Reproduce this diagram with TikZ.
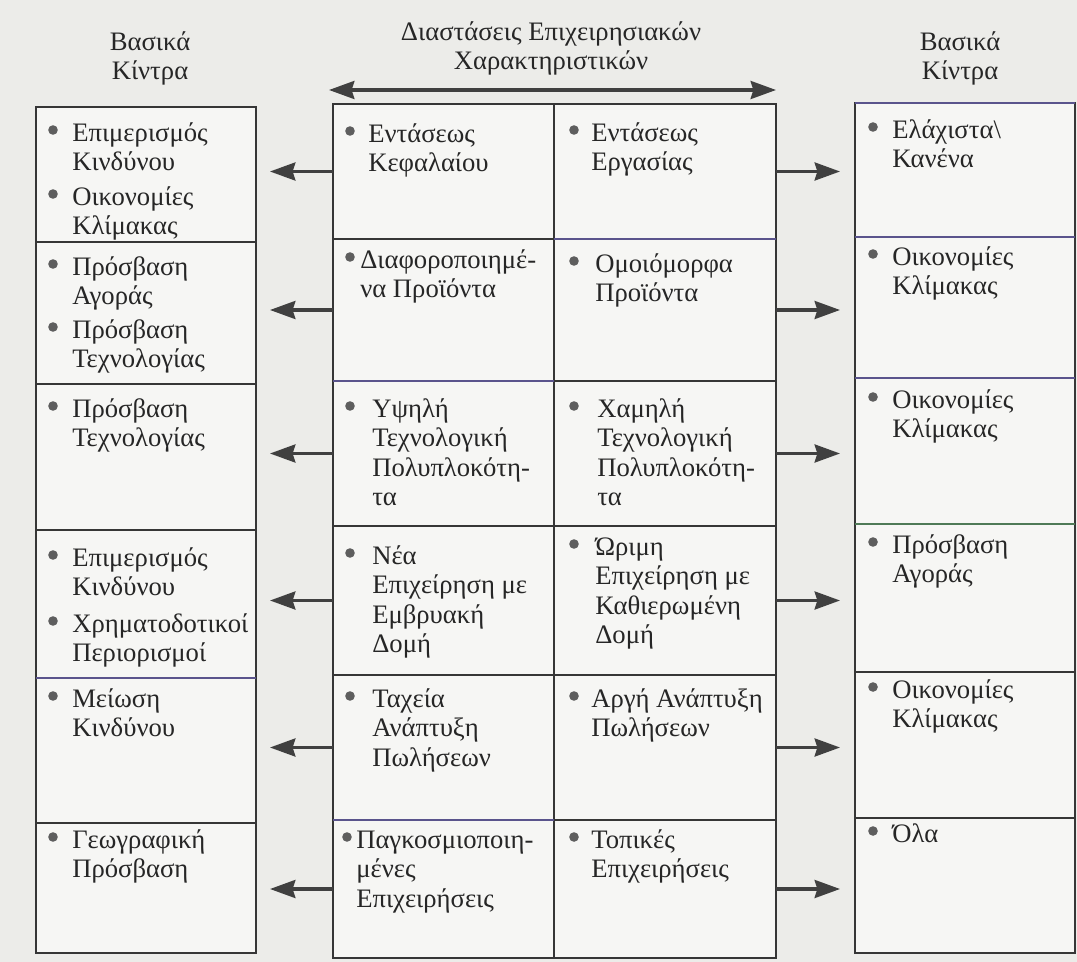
\documentclass[tikz,border=0pt]{standalone}
\usepackage{fontspec}
\setmainfont{Liberation Serif}
\usetikzlibrary{arrows.meta,fit}

\definecolor{paper}{HTML}{ECECE9}
\definecolor{boxfill}{HTML}{F6F6F4}
\definecolor{ink}{HTML}{262626}
\definecolor{rule}{HTML}{363636}
\definecolor{rulepurple}{HTML}{5A548C}
\definecolor{rulegreen}{HTML}{4F7A57}
\definecolor{arrowgray}{HTML}{404040}
\definecolor{dotgray}{HTML}{5E5E5E}

\tikzset{
  region/.style={inner sep=0pt, outer sep=0pt},
  frame/.style={draw=rule, line width=1.2pt, fill=boxfill},
  divider/.style={draw=rule, line width=1.1pt},
  head/.style={font=\fontsize{20}{22.1}\selectfont, text=ink, align=center, inner sep=0pt, anchor=north},
  entry/.style={font=\fontsize{20}{22.1}\selectfont, text=ink, align=left, inner sep=0pt, anchor=north west},
  tipshape/.style={-{Stealth[length=19pt,width=13.5pt,inset=2pt]}},
  link/.style={draw=arrowgray, line width=2.4pt, tipshape},
  linkleft/.style={link, shorten >=10.5pt},
  linkright/.style={link, shorten >=11.25pt},
  span/.style={draw=arrowgray, line width=2.4pt,
    {Stealth[length=19pt,width=13.5pt,inset=2pt]}-{Stealth[length=19pt,width=13.5pt,inset=2pt]}},
  dot/.style={fill=dotgray},
}

% bullet item: name, bullet x, text x, first baseline y, text
\newcommand\bulletitem[5]{%
  \fill[dot] (#2,#4-11) circle[radius=4.8];
  \node[entry] (#1) at (#3,#4-20.6) {\strut #5};%
}

\begin{document}
\begin{tikzpicture}[x=0.75pt,y=-0.75pt]
\useasboundingbox (0,0) rectangle (1077,962);
\fill[paper] (0,0) rectangle (1077,962);

% ---- cell regions (pixel grid) ----
% left column
\node[region, fit={(36,107) (256,242)}] (L1) {};
\node[region, fit={(36,242) (256,384)}] (L2) {};
\node[region, fit={(36,384) (256,530)}] (L3) {};
\node[region, fit={(36,530) (256,678)}] (L4) {};
\node[region, fit={(36,678) (256,823)}] (L5) {};
\node[region, fit={(36,823) (256,953)}] (L6) {};
% centre, first column
\node[region, fit={(333,104) (554,239)}] (C1) {};
\node[region, fit={(333,239) (554,381)}] (C2) {};
\node[region, fit={(333,381) (554,526)}] (C3) {};
\node[region, fit={(333,526) (554,675)}] (C4) {};
\node[region, fit={(333,675) (554,820)}] (C5) {};
\node[region, fit={(333,820) (554,958)}] (C6) {};
% centre, second column
\node[region, fit={(554,104) (776,239)}] (D1) {};
\node[region, fit={(554,239) (776,381)}] (D2) {};
\node[region, fit={(554,381) (776,526)}] (D3) {};
\node[region, fit={(554,526) (776,675)}] (D4) {};
\node[region, fit={(554,675) (776,820)}] (D5) {};
\node[region, fit={(554,820) (776,958)}] (D6) {};
% right column
\node[region, fit={(855,103) (1075,237)}] (R1) {};
\node[region, fit={(855,237) (1075,378)}] (R2) {};
\node[region, fit={(855,378) (1075,524)}] (R3) {};
\node[region, fit={(855,524) (1075,672)}] (R4) {};
\node[region, fit={(855,672) (1075,818)}] (R5) {};
\node[region, fit={(855,818) (1075,953)}] (R6) {};

% ---- frames ----
\draw[frame] (L1.north west) rectangle (L6.south east);
\draw[frame] (C1.north west) rectangle (D6.south east);
\draw[frame] (R1.north west) rectangle (R6.south east);
\draw[divider, draw=rulepurple] (R1.north west) -- (R1.north east);
\draw[divider] (C1.north east) -- (C6.south east);

% ---- row dividers ----
\draw[divider] (L1.south west) -- (L1.south east);
\draw[divider] (L2.south west) -- (L2.south east);
\draw[divider] (L3.south west) -- (L3.south east);
\draw[divider, draw=rulepurple] (L4.south west) -- (L4.south east);
\draw[divider] (L5.south west) -- (L5.south east);

\draw[divider] (C1.south west) -- (C1.south east);
\draw[divider, draw=rulepurple] (C2.south west) -- (C2.south east);
\draw[divider] (C3.south west) -- (C3.south east);
\draw[divider] (C4.south west) -- (C4.south east);
\draw[divider, draw=rulepurple] (C5.south west) -- (C5.south east);

\draw[divider, draw=rulepurple] (D1.south west) -- (D1.south east);
\draw[divider] (D2.south west) -- (D2.south east);
\draw[divider] (D3.south west) -- (D3.south east);
\draw[divider] (D4.south west) -- (D4.south east);
\draw[divider] (D5.south west) -- (D5.south east);

\draw[divider, draw=rulepurple] (R1.south west) -- (R1.south east);
\draw[divider, draw=rulepurple] (R2.south west) -- (R2.south east);
\draw[divider, draw=rulegreen] (R3.south west) -- (R3.south east);
\draw[divider] (R4.south west) -- (R4.south east);
\draw[divider] (R5.south west) -- (R5.south east);

% ---- headings ----
\node[head] (hl) at (150,50-20.6) {\strut Βασικά\\Κίντρα};
\node[head] (hc) at (551,40-20.6) {\strut Διαστάσεις Επιχειρησιακών\\Χαρακτηριστικών};
\node[head] (hr) at (960,50-20.6) {\strut Βασικά\\Κίντρα};

\coordinate (spanL) at (329,90);
\coordinate (spanR) at (776,90);
\draw[span] (spanL) -- (spanR);

% ---- connectors ----
\foreach \i in {1,...,6} {
  \draw[linkleft] (C\i.west) -- (C\i.west -| L\i.east);
  \draw[linkright] (D\i.east) -- (D\i.east -| R\i.west);
}

% ---- left column entries ----
\bulletitem{la1}{53}{72}{141}{Επιμερισμός\\Κινδύνου}
\bulletitem{la2}{53}{72}{205}{Οικονομίες\\Κλίμακας}
\bulletitem{lb1}{53}{72}{275}{Πρόσβαση\\Αγοράς}
\bulletitem{lb2}{53}{72}{338}{Πρόσβαση\\Τεχνολογίας}
\bulletitem{lc1}{53}{72}{417}{Πρόσβαση\\Τεχνολογίας}
\bulletitem{ld1}{53}{72}{566}{Επιμερισμός\\Κινδύνου}
\bulletitem{ld2}{53}{72}{632}{Χρηματοδοτικοί\\Περιορισμοί}
\bulletitem{le1}{53}{72}{707}{Μείωση\\Κινδύνου}
\bulletitem{lf1}{53}{72}{848}{Γεωγραφική\\Πρόσβαση}

% ---- centre, first column ----
\bulletitem{ca}{350}{368}{142}{Εντάσεως\\Κεφαλαίου}
\bulletitem{cb}{350}{360}{268}{Διαφοροποιημέ-\\να Προϊόντα}
\bulletitem{cc}{350}{372}{417}{Υψηλή\\Τεχνολογική\\Πολυπλοκότη-\\τα}
\bulletitem{cd}{350}{372}{564}{Νέα\\Επιχείρηση με\\Εμβρυακή\\Δομή}
\bulletitem{ce}{350}{372}{707}{Ταχεία\\Ανάπτυξη\\Πωλήσεων}
\bulletitem{cf}{347}{356}{848}{Παγκοσμιοποιη-\\μένες\\Επιχειρήσεις}

% ---- centre, second column ----
\bulletitem{da}{574}{591}{141}{Εντάσεως\\Εργασίας}
\bulletitem{db}{574}{595}{272}{Ομοιόμορφα\\Προϊόντα}
\bulletitem{dc}{574}{597}{417}{Χαμηλή\\Τεχνολογική\\Πολυπλοκότη-\\τα}
\bulletitem{dd}{574}{595}{555}{Ώριμη\\Επιχείρηση με\\Καθιερωμένη\\Δομή}
\bulletitem{de}{574}{591}{707}{Αργή Ανάπτυξη\\Πωλήσεων}
\bulletitem{df}{574}{591}{848}{Τοπικές\\Επιχειρήσεις}

% ---- right column entries ----
\bulletitem{ra}{873}{892}{138}{Ελάχιστα\textbackslash\\Κανένα}
\bulletitem{rb}{873}{892}{265}{Οικονομίες\\Κλίμακας}
\bulletitem{rc}{873}{892}{408}{Οικονομίες\\Κλίμακας}
\bulletitem{rd}{873}{892}{553}{Πρόσβαση\\Αγοράς}
\bulletitem{re}{873}{892}{698}{Οικονομίες\\Κλίμακας}
\bulletitem{rf}{873}{892}{842}{Όλα}
\end{tikzpicture}
\end{document}
